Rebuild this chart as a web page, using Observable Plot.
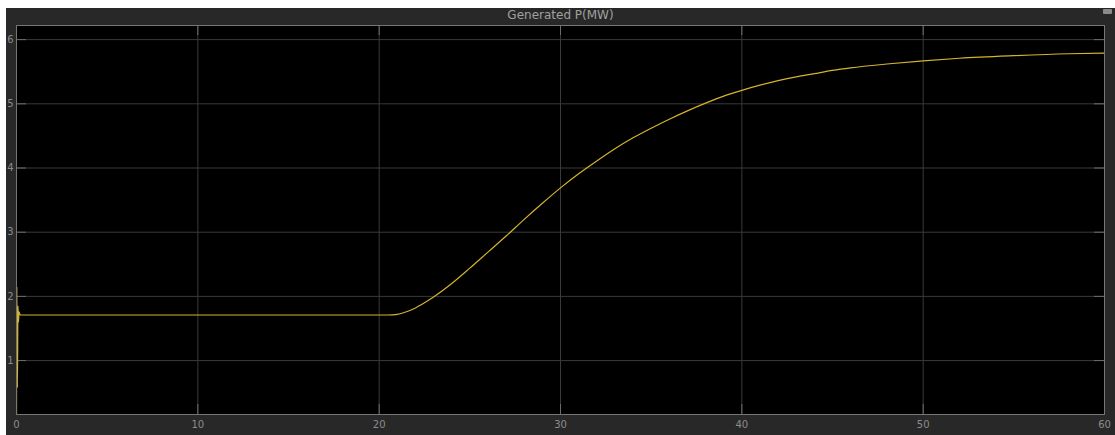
<!DOCTYPE html>
<html><head><meta charset="utf-8">
<script src="https://cdn.jsdelivr.net/npm/d3@7"></script>
<script src="https://cdn.jsdelivr.net/npm/@observablehq/plot@0.6"></script>
<style>
html,body{margin:0;padding:0;background:#fff;}
#wrap{position:absolute;left:6px;top:8px;width:1109px;height:427px;background:#282828;overflow:hidden;}
#title{height:16px;line-height:15px;text-align:center;color:#a0a0a0;font:12px "DejaVu Sans",sans-serif;}
#icon{position:absolute;left:1097px;top:1px;width:9px;height:5px;background:#8a8a8a;border-radius:1px;}
#chart svg{display:block;}
</style></head><body>
<div id="wrap"><div id="title">Generated P(MW)</div><div id="icon"></div><div id="chart"></div></div>
<script>
const timeS   = [0, 0.02, 0.05, 0.08, 0.11, 0.14, 0.2, 5, 10, 15, 20, 20.5, 21, 21.5, 22, 22.5, 23, 24, 25, 26, 27, 28, 29, 30, 31, 32, 33, 34, 35, 36, 37, 38, 39, 40, 41, 42, 43, 44, 45, 46, 48, 50, 52, 55, 58, 60];
const powerMW = [0, 2.15, 0.58, 1.85, 1.6, 1.76, 1.71, 1.71, 1.71, 1.71, 1.71, 1.71, 1.72, 1.76, 1.82, 1.90, 1.99, 2.20, 2.44, 2.69, 2.94, 3.20, 3.45, 3.69, 3.91, 4.11, 4.30, 4.47, 4.62, 4.76, 4.89, 5.01, 5.12, 5.21, 5.29, 5.36, 5.42, 5.47, 5.52, 5.56, 5.62, 5.67, 5.71, 5.75, 5.78, 5.79];
const xTicks = [0, 10, 20, 30, 40, 50, 60];
const yTicks = [1, 2, 3, 4, 5, 6];
const data = timeS.map((t, i) => ({t, p: powerMW[i]}));

const W = 1109, H = 411, mL = 10, mR = 11, mT = 1, mB = 21;
const pw = W - mL - mR, ph = H - mT - mB, tk = 10;
const tickCol = "#6c6c6c", gridCol = "#3a3a3a";

const chart = Plot.plot({
  width: W, height: H,
  marginLeft: mL, marginRight: mR, marginTop: mT, marginBottom: mB,
  style: {background: "transparent", color: "#8c8c8c", fontFamily: "DejaVu Sans, sans-serif", fontSize: "10px", overflow: "visible"},
  x: {domain: [0, 60], label: null},
  y: {domain: [0.16, 6.22], label: null},
  marks: [
    Plot.frame({fill: "#000", stroke: null}),
    Plot.gridX(xTicks, {stroke: gridCol, strokeOpacity: 1}),
    Plot.gridY(yTicks, {stroke: gridCol, strokeOpacity: 1}),
    Plot.tickY(yTicks, {y: d => d, stroke: tickCol, insetRight: pw - tk}),
    Plot.tickY(yTicks, {y: d => d, stroke: tickCol, insetLeft: pw - tk}),
    Plot.tickX(xTicks, {x: d => d, stroke: tickCol, insetTop: ph - tk}),
    Plot.tickX(xTicks, {x: d => d, stroke: tickCol, insetBottom: ph - tk}),
    Plot.axisX(xTicks, {tickSize: 0, tickPadding: 6, tickFormat: d => String(d), fill: "#8c8c8c", label: null}),
    Plot.axisY(yTicks, {tickSize: 0, tickPadding: 3, tickFormat: d => String(d), fill: "#8c8c8c", label: null}),
    Plot.line(data, {x: "t", y: "p", stroke: "#d4b32e", strokeWidth: 1.2, curve: "monotone-x", clip: true}),
    Plot.frame({stroke: "#767676"})
  ]
});
document.getElementById("chart").appendChild(chart);
</script>
</body></html>
